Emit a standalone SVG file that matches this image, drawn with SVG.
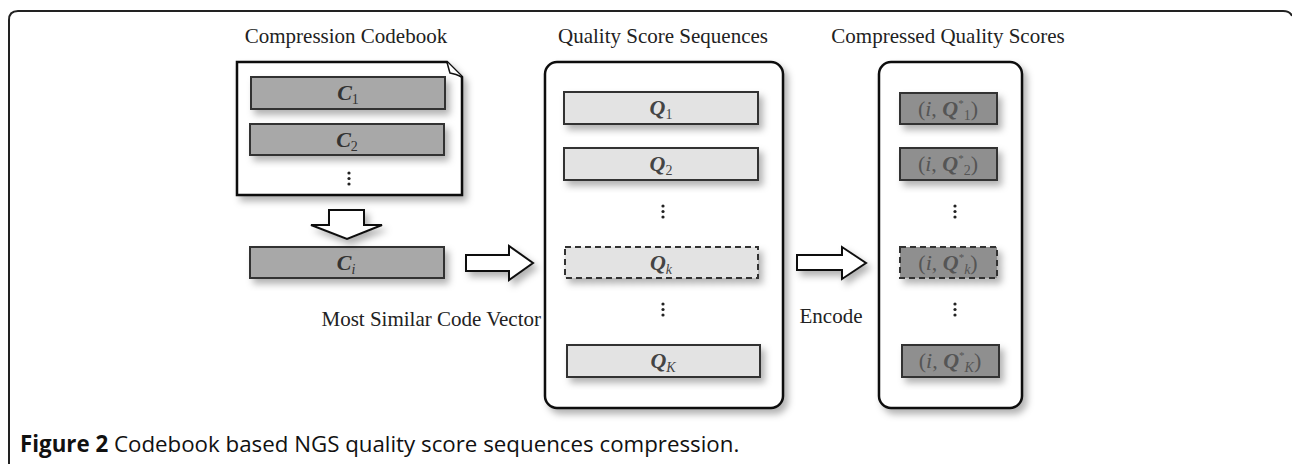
<svg xmlns="http://www.w3.org/2000/svg" width="1292" height="464" viewBox="0 0 1292 464">
<defs>
<filter id="sh" x="-20%" y="-20%" width="150%" height="160%">
<feDropShadow dx="4" dy="5" stdDeviation="3.5" flood-color="#000" flood-opacity="0.3"/>
</filter>
<style>
.frame{fill:none;stroke:#222;stroke-width:2}
.title{font-family:"Liberation Serif",serif;font-size:21px;fill:#222;text-anchor:middle}
.lbl{font-family:"Liberation Serif",serif;font-size:21px;fill:#222}
.cbox{fill:#a8a8a8;stroke:#333;stroke-width:2}
.qbox{fill:#e3e3e3;stroke:#333;stroke-width:2}
.pbox{fill:#8f8f8f;stroke:#333;stroke-width:2}
.dash{stroke-dasharray:6 4}
.cont{fill:#fff;stroke:#111;stroke-width:2.5}
.arrow{fill:#fff;stroke:#111;stroke-width:2}
.sym{font-family:"Liberation Serif",serif;font-size:22px;text-anchor:middle}
.ct{fill:#333}
.qt{fill:#444}
.pt{fill:#555}
.b{font-weight:bold;font-style:italic}
.it{font-style:italic}
.sub{font-size:14px;font-weight:normal;font-style:normal}
.subi{font-size:14px;font-weight:normal;font-style:italic}
.dot{fill:#222}
.cap{font-family:"Open Sans","DejaVu Sans",sans-serif;font-size:22.3px;fill:#111}
</style>
</defs>

<path class="frame" d="M9,464 V20 Q9,11 18,11 H1283 Q1290,11 1292,16"/>

<g id="titles">
<text class="title" x="346" y="43">Compression Codebook</text>
<text class="title" x="663" y="43">Quality Score Sequences</text>
<text class="title" x="948" y="43">Compressed Quality Scores</text>
</g>

<g id="codebook">
<path class="cont" filter="url(#sh)" d="M237,62 H447 L462,77 V195 H237 Z"/>
<path fill="#fff" stroke="#111" stroke-width="1.5" d="M447,62 Q449,70 450,73 Q456,74 462,77"/>
<rect class="cbox" filter="url(#sh)" x="251" y="77" width="194" height="32"/>
<text class="sym ct" x="348" y="100"><tspan class="b">C</tspan><tspan class="sub" dy="4">1</tspan></text>
<rect class="cbox" filter="url(#sh)" x="250" y="124" width="194" height="31"/>
<text class="sym ct" x="347" y="147"><tspan class="b">C</tspan><tspan class="sub" dy="4">2</tspan></text>
<circle class="dot" cx="349" cy="173" r="1.6"/><circle class="dot" cx="349" cy="178.5" r="1.6"/><circle class="dot" cx="349" cy="184" r="1.6"/>
</g>

<g id="ci">
<rect class="cbox" filter="url(#sh)" x="250" y="247" width="194" height="31"/>
<text class="sym ct" x="346" y="270"><tspan class="b">C</tspan><tspan class="subi" dy="4">i</tspan></text>
</g>

<g id="qseq">
<rect class="cont" filter="url(#sh)" x="545" y="62" width="238" height="346" rx="12"/>
<rect class="qbox" filter="url(#sh)" x="564" y="92" width="194" height="32"/>
<text class="sym qt" x="661" y="115"><tspan class="b">Q</tspan><tspan class="sub" dy="4">1</tspan></text>
<rect class="qbox" filter="url(#sh)" x="564" y="148" width="194" height="32"/>
<text class="sym qt" x="661" y="171"><tspan class="b">Q</tspan><tspan class="sub" dy="4">2</tspan></text>
<circle class="dot" cx="663" cy="206" r="1.6"/><circle class="dot" cx="663" cy="211.5" r="1.6"/><circle class="dot" cx="663" cy="217" r="1.6"/>
<rect class="qbox dash" filter="url(#sh)" x="565" y="247" width="193" height="31"/>
<text class="sym qt" x="661" y="270"><tspan class="b">Q</tspan><tspan class="subi" dy="4">k</tspan></text>
<circle class="dot" cx="663" cy="304" r="1.6"/><circle class="dot" cx="663" cy="309.5" r="1.6"/><circle class="dot" cx="663" cy="315" r="1.6"/>
<rect class="qbox" filter="url(#sh)" x="567" y="345" width="193" height="32"/>
<text class="sym qt" x="663" y="368"><tspan class="b">Q</tspan><tspan class="subi" dy="4">K</tspan></text>
</g>

<g id="compressed">
<rect class="cont" filter="url(#sh)" x="879" y="62" width="143" height="346" rx="12"/>
<rect class="pbox" filter="url(#sh)" x="900" y="93" width="97" height="31"/>
<text class="sym pt" x="948" y="116">(<tspan class="it">i</tspan>, <tspan class="b">Q</tspan><tspan font-size="11" dy="-9">*</tspan><tspan class="sub" dy="13">1</tspan><tspan dy="-4">)</tspan></text>
<rect class="pbox" filter="url(#sh)" x="900" y="148" width="97" height="32"/>
<text class="sym pt" x="948" y="171">(<tspan class="it">i</tspan>, <tspan class="b">Q</tspan><tspan font-size="11" dy="-9">*</tspan><tspan class="sub" dy="13">2</tspan><tspan dy="-4">)</tspan></text>
<circle class="dot" cx="955" cy="206" r="1.6"/><circle class="dot" cx="955" cy="211.5" r="1.6"/><circle class="dot" cx="955" cy="217" r="1.6"/>
<rect class="pbox dash" filter="url(#sh)" x="900" y="247" width="97" height="31"/>
<text class="sym pt" x="948" y="270">(<tspan class="it">i</tspan>, <tspan class="b">Q</tspan><tspan font-size="11" dy="-9">*</tspan><tspan class="subi" dy="13">k</tspan><tspan dy="-4">)</tspan></text>
<circle class="dot" cx="955" cy="304" r="1.6"/><circle class="dot" cx="955" cy="309.5" r="1.6"/><circle class="dot" cx="955" cy="315" r="1.6"/>
<rect class="pbox" filter="url(#sh)" x="902" y="345" width="97" height="32"/>
<text class="sym pt" x="950" y="368">(<tspan class="it">i</tspan>, <tspan class="b">Q</tspan><tspan font-size="11" dy="-9">*</tspan><tspan class="subi" dy="13">K</tspan><tspan dy="-4">)</tspan></text>
</g>

<g id="connectors">
<polygon class="arrow" filter="url(#sh)" points="329,210 364,210 364,225 382,225 347,239 311,225 329,225"/>
<polygon class="arrow" filter="url(#sh)" points="466,255 509,255 509,246 533,263 509,280 509,271 466,271"/>
<polygon class="arrow" filter="url(#sh)" points="797,255 842,255 842,247 866,263 842,279 842,270 797,270"/>
<text class="lbl" x="541" y="326" text-anchor="end">Most Similar Code Vector</text>
<text class="lbl" x="831" y="323" text-anchor="middle">Encode</text>
</g>

<g id="caption">
<text class="cap" x="20" y="452"><tspan font-weight="bold">Figure 2</tspan> Codebook based NGS quality score sequences compression.</text>
</g>
</svg>
